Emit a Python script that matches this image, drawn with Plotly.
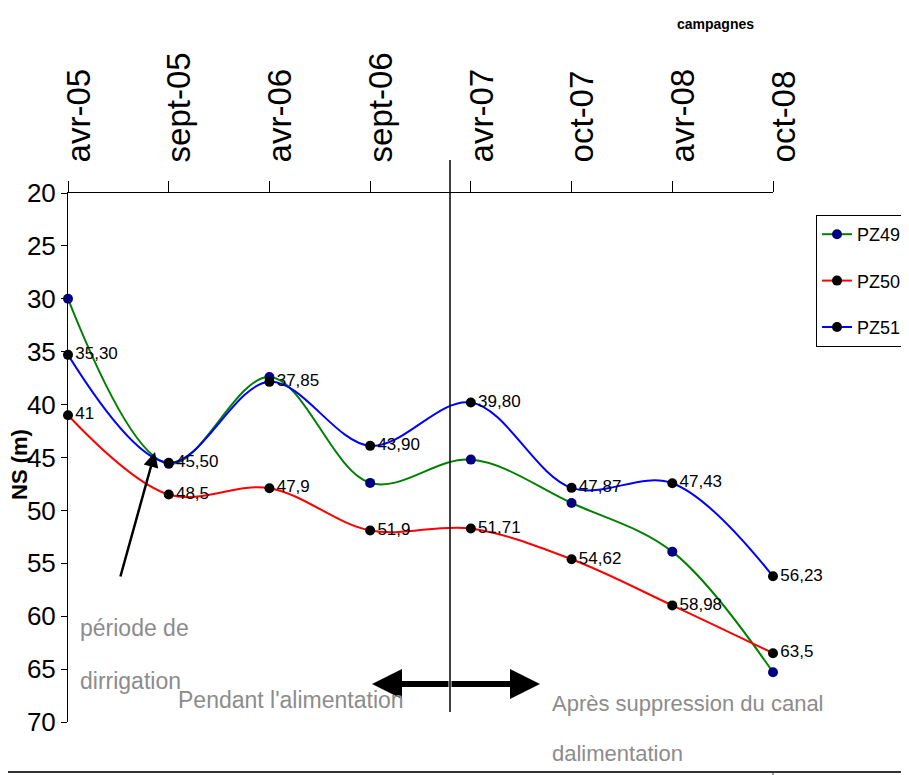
import plotly.graph_objects as go

campagnes = ["avr-05", "sept-05", "avr-06", "sept-06", "avr-07", "oct-07", "avr-08", "oct-08"]
pz49 = [30.0, 45.6, 37.4, 47.4, 45.2, 49.3, 53.9, 65.3]
pz50 = [41.0, 48.5, 47.9, 51.9, 51.71, 54.62, 58.98, 63.5]
pz51 = [35.30, 45.50, 37.85, 43.90, 39.80, 47.87, 47.43, 56.23]
pz50_labels = ["41", "48,5", "47,9", "51,9", "51,71", "54,62", "58,98", "63,5"]
pz51_labels = ["35,30", "45,50", "37,85", "43,90", "39,80", "47,87", "47,43", "56,23"]
y_ticks = [20, 25, 30, 35, 40, 45, 50, 55, 60, 65, 70]

SANS = "Liberation Sans, Arial"
GRAY = "#8c8c8c"

fig = go.Figure()
fig.add_trace(go.Scatter(
    x=campagnes, y=pz49, name="PZ49", legendgroup="a", cliponaxis=False,
    mode="lines+markers", line=dict(color="#008000", width=2, shape="spline", smoothing=1),
    marker=dict(color="#000080", size=10),
))
fig.add_trace(go.Scatter(
    x=campagnes, y=pz50, name="PZ50", legendgroup="b", cliponaxis=False,
    mode="lines+markers+text", text=pz50_labels, textposition="middle right",
    textfont=dict(family=SANS, size=17, color="black"),
    line=dict(color="#ff0000", width=2, shape="spline", smoothing=1),
    marker=dict(color="black", size=10),
))
fig.add_trace(go.Scatter(
    x=campagnes, y=pz51, name="PZ51", legendgroup="c", cliponaxis=False,
    mode="lines+markers+text", text=pz51_labels, textposition="middle right",
    textfont=dict(family=SANS, size=17, color="black"),
    line=dict(color="#0000ff", width=2, shape="spline", smoothing=1),
    marker=dict(color="black", size=10),
))

OFF = 8  # page body margin
# plot area in page pixels
PL, PR, PT, PB = 68, 773, 193, 722
W, H = 909, 775
L, R, T, B = PL - OFF, PR - OFF, PT - OFF, PB - OFF

def px(x):
    return (x - PL) / (PR - PL)

def py(y):
    return (PB - y) / (PB - PT)

fig.update_layout(
    width=W, height=H,
    margin=dict(l=L, r=W - R, t=T, b=H - B, autoexpand=False),
    paper_bgcolor="white", plot_bgcolor="white",
    showlegend=True,
    legend=dict(x=px(816), y=py(215), xanchor="left", yanchor="top",
                bordercolor="black", borderwidth=1, bgcolor="white",
                font=dict(family=SANS, size=18, color="black"),
                tracegroupgap=20, itemwidth=30),
    xaxis=dict(type="category", side="top", range=[0, 7], showgrid=False, zeroline=False,
               automargin=False,
               showline=True, linecolor="black", linewidth=1,
               ticks="outside", ticklen=11, tickcolor="black", tickangle=-90,
               tickfont=dict(family=SANS, size=33, color="black"),
               ticklabelstandoff=12, ticklabelshift=11),
    yaxis=dict(range=[70, 20], tickvals=y_ticks, showgrid=False, zeroline=False,
               automargin=False,
               showline=True, linecolor="black", linewidth=1,
               ticks="outside", ticklen=6, tickcolor="black",
               tickfont=dict(family=SANS, size=26, color="black")),
)

# vertical separator line
fig.add_shape(type="line", xref="paper", yref="paper", x0=px(450), x1=px(450),
              y0=py(160), y1=py(712), line=dict(color="black", width=1.5))
# bottom frame line
fig.add_shape(type="line", xref="paper", yref="paper", x0=px(0), x1=px(920),
              y0=py(772), y1=py(772), line=dict(color="#333333", width=2))
fig.add_shape(type="line", xref="paper", yref="paper", x0=px(773), x1=px(773),
              y0=py(772), y1=py(778), line=dict(color="#333333", width=1))

# double arrow
fig.add_annotation(xref="paper", yref="paper", x=px(372), y=py(684), ax=78, ay=0,
                   text="", showarrow=True, arrowhead=2, arrowsize=1, arrowwidth=6, arrowcolor="black")
fig.add_annotation(xref="paper", yref="paper", x=px(540), y=py(684), ax=-90, ay=0,
                   text="", showarrow=True, arrowhead=2, arrowsize=1, arrowwidth=6, arrowcolor="black")
# irrigation arrow
fig.add_annotation(xref="paper", yref="paper", x=px(155), y=py(452), ax=-35, ay=126,
                   text="", showarrow=True, arrowhead=2, arrowsize=1.2, arrowwidth=2.5, arrowcolor="black")

def gtext(t, x, y, size=23):
    fig.add_annotation(xref="paper", yref="paper", x=px(x), y=py(y), xanchor="left", yanchor="middle",
                       text=t, showarrow=False, font=dict(family=SANS, size=size, color=GRAY))

gtext("période de", 78, 628)
gtext("dirrigation", 78, 681)
gtext("Pendant l'alimentation", 176, 700)
gtext("Après suppression du canal", 550, 703, 22)
gtext("dalimentation", 550, 753, 22)

fig.add_annotation(xref="paper", yref="paper", x=px(715), y=py(24), xanchor="center", yanchor="middle",
                   text="<b>campagnes</b>", showarrow=False,
                   font=dict(family=SANS, size=14, color="black"))
fig.add_annotation(xref="paper", yref="paper", x=px(19), y=py(465), xanchor="center", yanchor="middle",
                   text="<b>NS (m)</b>", textangle=-90, showarrow=False,
                   font=dict(family=SANS, size=22, color="black"))

fig.write_html("out.html")
